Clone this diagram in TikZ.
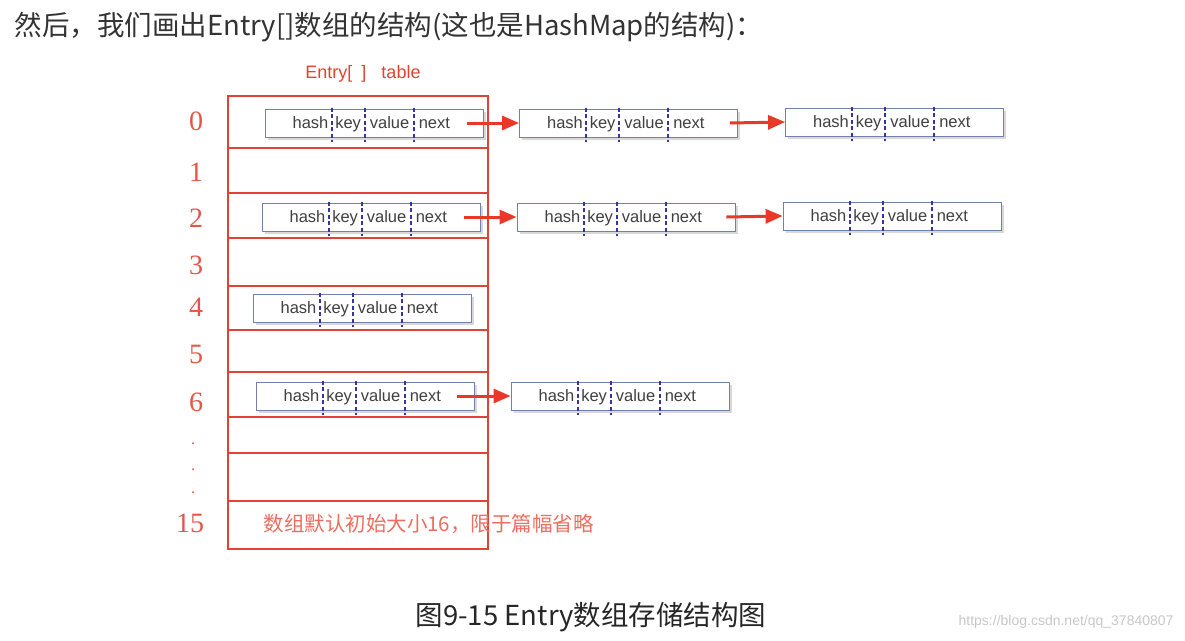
\documentclass[tikz,border=0pt]{standalone}
\usepackage{fontspec}
\setmainfont{Liberation Serif}
\setsansfont{Liberation Sans}
\newfontfamily\cjkfont{Noto Sans CJK SC}
\usetikzlibrary{arrows.meta,shadows,positioning}

\definecolor{tablered}{RGB}{226,66,52}
\definecolor{indexred}{RGB}{232,84,72}
\definecolor{arrowred}{RGB}{234,56,40}
\definecolor{boxedge}{RGB}{112,130,172}
\definecolor{dashblue}{RGB}{52,52,168}
\definecolor{notered}{RGB}{236,110,96}

\tikzset{
  entrybox/.style={draw=boxedge, line width=0.8pt, fill=white, minimum width=218pt,
    minimum height=28pt, inner sep=0pt,
    drop shadow={shadow xshift=2.5pt, shadow yshift=-2.5pt, fill=black!30}},
  divider/.style={dashblue, line width=1.8pt, dash pattern=on 4pt off 2.5pt},
  field/.style={font=\sffamily\fontsize{16.5}{18}\selectfont, text=black!75, inner sep=0pt},
  idx/.style={font=\fontsize{28}{30}\selectfont, text=indexred, inner sep=0pt},
  link/.style={arrowred, line width=3pt, -{Triangle[length=17pt,width=14pt]}},
  rowline/.style={tablered, line width=2pt},
  entry/.pic={
    \node[entrybox] (-box) {};
    \foreach \dx in {67,100,149}
      \draw[divider] ([xshift=\dx pt, yshift=1pt]-box.north west) -- ([xshift=\dx pt, yshift=-5pt]-box.south west);
    \node[field, anchor=base east] at ([xshift=64pt, yshift=-5.5pt]-box.west) {hash};
    \node[field, anchor=base] at ([xshift=83.5pt, yshift=-5.5pt]-box.west) {key};
    \node[field, anchor=base] at ([xshift=125pt, yshift=-5.5pt]-box.west) {value};
    \node[field, anchor=base west] at ([xshift=154pt, yshift=-5.5pt]-box.west) {next};
  }
}

\begin{document}
\begin{tikzpicture}[x=1pt, y=-1pt]
  \useasboundingbox (0,0) rectangle (1185,640);
  % Titoli
  \node[anchor=west, font=\cjkfont\fontsize{27.5}{32}\selectfont, text=black!80] (title) at (11,27)
    {然后，我们画出Entry[]数组的结构(这也是HashMap的结构)：};
  \node[font=\sffamily\fontsize{18}{21}\selectfont, text=tablered] (tablelabel) at (363,74)
    {Entry{[\,\,\,]}\ \ \ table};
  % Tabella
  \draw[rowline] (228,96) rectangle (488,549);
  \foreach \y in {148,193,238,286,330,372,417,453,501}
    \draw[rowline] (228,\y) -- (488,\y);
  % Indici
  \foreach \i/\y in {0/121,1/172,2/218,3/265,4/307,5/354,6/402}
    \node[idx] (idx\i) at (196,\y) {\i};
  \foreach \y in {444,470,493}
    \node[idx, font=\fontsize{16}{18}\selectfont] at (193,\y) {.};
  \node[idx] (idx15) at (190,523) {15};
  \node[anchor=west, font=\cjkfont\fontsize{20.5}{24}\selectfont, text=notered] (note) at (260,524)
    {数组默认初始大小16，限于篇幅省略};
  % Entry
  \pic (e0a) at (374,123) {entry};
  \pic (e0b) at (628.5,123) {entry};
  \pic (e0c) at (894.5,122) {entry};
  \pic (e2a) at (371,217) {entry};
  \pic (e2b) at (626,217) {entry};
  \pic (e2c) at (892,216) {entry};
  \pic (e4a) at (362,308) {entry};
  \pic (e6a) at (365,396) {entry};
  \pic (e6b) at (620,396) {entry};
  % Frecce
  \draw[link] ([xshift=-16pt]e0a-box.east) -- (e0b-box.west);
  \draw[link] ([xshift=-8pt]e0b-box.east) -- (e0c-box.west);
  \draw[link] ([xshift=-16pt]e2a-box.east) -- (e2b-box.west);
  \draw[link] ([xshift=-9pt]e2b-box.east) -- (e2c-box.west);
  \draw[link] ([xshift=-17pt]e6a-box.east) -- (e6b-box.west);
  % Didascalia
  \node[font=\cjkfont\fontsize{27.5}{32}\selectfont, text=black!85] (caption) at (591,617)
    {图9-15 Entry数组存储结构图};
  \node[anchor=east, font=\sffamily\fontsize{14}{16}\selectfont, text=black!22] (mark) at (1177,622)
    {https://blog.csdn.net/qq\_37840807};
\end{tikzpicture}
\end{document}
